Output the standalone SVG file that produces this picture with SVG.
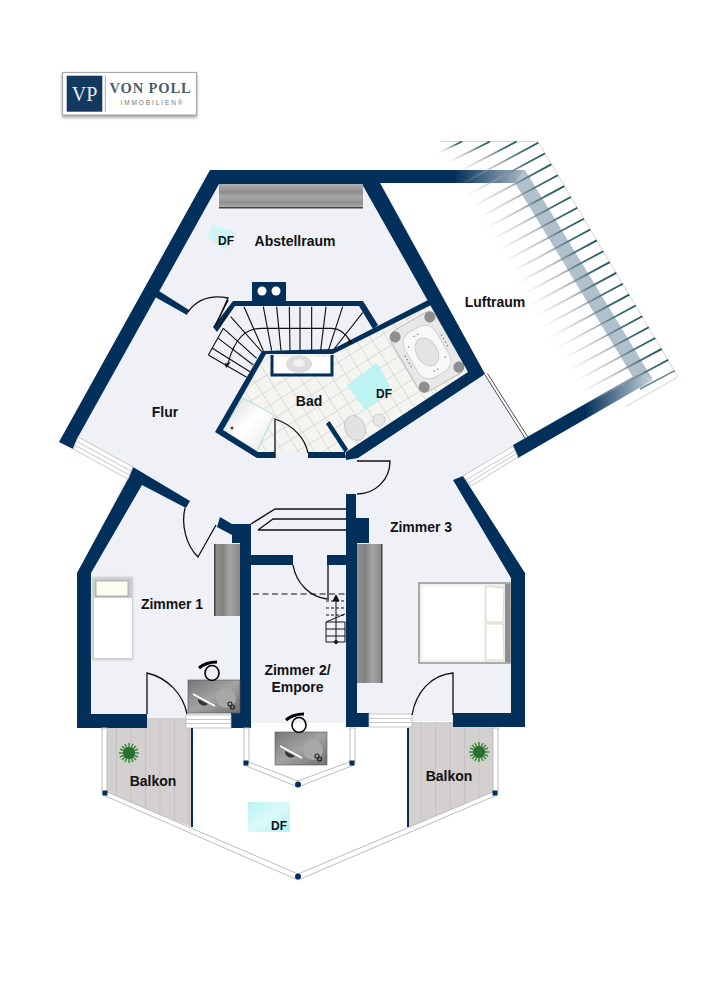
<svg xmlns="http://www.w3.org/2000/svg" width="707" height="1000" viewBox="0 0 707 1000">
<style>
.w{fill:#03305a}
.l{font-family:"Liberation Sans",Arial,sans-serif;font-weight:700;font-size:14px;fill:#111;text-anchor:middle}
.df{font-size:12px}
.d{fill:none;stroke:#111;stroke-width:1.3}
.s{fill:none;stroke:#111;stroke-width:3.4}
.win{fill:#fff;stroke:#b9b9b9;stroke-width:.8}
.rail{fill:#fff;stroke:#bdbdbd;stroke-width:1}
.post{fill:#03305a}
</style>
<defs>
<linearGradient id="stg" x1="0" y1="0" x2="1" y2="0"><stop offset="0" stop-color="#a4acaf" stop-opacity="0"/><stop offset=".45" stop-color="#959fa3" stop-opacity=".65"/><stop offset=".75" stop-color="#46707b"/><stop offset="1" stop-color="#21525f"/></linearGradient>
<linearGradient id="topf" gradientUnits="userSpaceOnUse" x1="455" y1="0" x2="525" y2="0"><stop offset="0" stop-color="#03305a"/><stop offset="1" stop-color="#a9b9c8"/></linearGradient>
<linearGradient id="lowf" gradientUnits="userSpaceOnUse" x1="585" y1="0" x2="652" y2="0"><stop offset="0" stop-color="#03305a"/><stop offset="1" stop-color="#c6d2dc"/></linearGradient>
<linearGradient id="wardH" x1="0" y1="0" x2="0" y2="1"><stop offset="0" stop-color="#b0b0b0"/><stop offset=".35" stop-color="#8e8e8e"/><stop offset=".55" stop-color="#a8a8a8"/><stop offset=".8" stop-color="#909090"/><stop offset="1" stop-color="#a8a8a8"/></linearGradient>
<linearGradient id="wardV" x1="0" y1="0" x2="1" y2="0"><stop offset="0" stop-color="#8f8f8f"/><stop offset=".35" stop-color="#838383"/><stop offset=".6" stop-color="#a4a4a4"/><stop offset="1" stop-color="#8a8a8a"/></linearGradient>
<linearGradient id="deskg" x1="0" y1="0" x2="1" y2="1"><stop offset="0" stop-color="#777"/><stop offset=".5" stop-color="#a2a2a2"/><stop offset="1" stop-color="#707070"/></linearGradient>
<linearGradient id="sky" x1="0" y1="0" x2="1" y2="1"><stop offset="0" stop-color="#b5f3f3"/><stop offset=".5" stop-color="#dcf9f9"/><stop offset="1" stop-color="#b5f2f3"/></linearGradient>
<linearGradient id="show" x1="0" y1="0" x2="1" y2="1"><stop offset="0" stop-color="#d8d8d8"/><stop offset=".5" stop-color="#fff"/><stop offset="1" stop-color="#e6e6e6"/></linearGradient>
<pattern id="tile" width="13.5" height="13.5" patternUnits="userSpaceOnUse" patternTransform="rotate(-32)"><rect width="13.5" height="13.5" fill="#f4f4f1"/><path d="M0 0H13.5M0 0V13.5" stroke="#c2c2bf" stroke-width=".9"/></pattern>
<pattern id="deck" width="14.5" height="10" patternUnits="userSpaceOnUse"><rect width="14.5" height="10" fill="#d4d0d0"/><path d="M0 0V10" stroke="#a5a5a5" stroke-width=".7"/></pattern>
<filter id="soft" x="-20%" y="-20%" width="140%" height="140%"><feGaussianBlur stdDeviation="1.2"/></filter>
<filter id="sb" x="-20%" y="-20%" width="140%" height="140%"><feGaussianBlur stdDeviation=".5"/></filter>
<filter id="sh" x="-5%" y="-10%" width="110%" height="130%"><feDropShadow dx="0" dy="2" stdDeviation="1.5" flood-color="#777" flood-opacity=".7"/></filter>
<line id="st" x1="-80" y1="43" x2="0" y2="0" stroke="url(#stg)" stroke-width="1.8"/>
<g id="desk">
<rect width="52" height="33" fill="url(#deskg)" stroke="#555" stroke-width=".6"/>
<circle cx="38" cy="18" r="10" fill="#a8a8a8"/>
<path d="M10 19a6 6 0 0 0 10 5z" fill="#333"/>
<path d="M5 14L27 26" stroke="#fff" stroke-width="1.6"/>
<circle cx="42" cy="24" r="2" fill="none" stroke="#222" stroke-width="1.2"/><circle cx="44.5" cy="27" r="2" fill="none" stroke="#222" stroke-width="1.2"/>
<ellipse cx="24" cy="-7" rx="7" ry="7.500" fill="none" stroke="#000" stroke-width="1.6"/>
<path d="M11 -12Q18 -18 29 -18" fill="none" stroke="#000" stroke-width="3"/>
</g>
<g id="plant" filter="url(#sb)"><g stroke="#3b8f3d" stroke-width="1.6"><path d="M-10 0H10M0 -10V10M-7 -7L7 7M-7 7L7 -7M-9 -4L9 4M-9 4L9 -4M-4 -9L4 9M4 -9L-4 9"/></g><circle r="6" fill="#2a6e32"/></g>
</defs>
<rect width="707" height="1000" fill="#fff"/>

<g id="logo">
<rect x="62.5" y="72.5" width="134" height="42.5" fill="#fff" stroke="#aaa" stroke-width="1.2" filter="url(#sh)"/>
<rect x="66.7" y="75.7" width="35.6" height="36" fill="#14395f"/>
<line x1="105.3" y1="75.5" x2="105.3" y2="112" stroke="#999" stroke-width=".8"/>
<text x="84.5" y="100.500" font-family="Liberation Serif,serif" font-size="20" fill="#e8edf2" text-anchor="middle">VP</text>
<text x="150.500" y="93" font-family="Liberation Serif,serif" font-size="14.500" font-weight="700" fill="#4a5c70" text-anchor="middle" letter-spacing=".9">VON POLL</text>
<text x="152.500" y="105" font-family="Liberation Sans,sans-serif" font-size="6.500" fill="#777" text-anchor="middle" letter-spacing="1.900">IMMOBILIEN®</text>
</g>

<g id="floor">
<polygon fill="#eff1f6" points="210,170 375,170 485,374 525,438 513,445 463,476 525,573 525,727 453,727 453,721 412,721 412,727 346,727 346,723 251,723 251,728 186,718 147,718 147,728 77,728 77,573 132,467 60,440"/>
<polygon id="balcony-left" fill="url(#deck)" points="107,718 192,718 192,827 107,795"/>
<polygon id="balcony-right" fill="url(#deck)" points="408,722 493,722 493,795 408,827"/>
</g>

<g id="luftraum">
<path d="M440 141.500H538L678 377L625 407" fill="none" stroke="#c9c9c9" stroke-width=".8"/>
<polygon points="525,170 652,378 636,382 515,183" fill="#a9b9c8" opacity=".9"/>
<polygon points="440,170 525,170 515,183 440,183" fill="url(#topf)"/>
<polygon points="513,445 636,375 652,378 653,380 518,458" fill="url(#lowf)"/>
<g>
<line x1="438" y1="153" x2="462" y2="141.500" stroke="url(#stg)" stroke-width="1.800"/>
<line x1="447" y1="163" x2="490" y2="141.500" stroke="url(#stg)" stroke-width="1.800"/>
<line x1="458" y1="172" x2="516.700" y2="141.500" stroke="url(#stg)" stroke-width="1.800"/>
<use href="#st" x="538.300" y="142.700"/><use href="#st" x="544.800" y="153.500"/><use href="#st" x="551.300" y="164.400"/><use href="#st" x="557.800" y="175.200"/><use href="#st" x="564.300" y="186.100"/><use href="#st" x="570.800" y="197"/><use href="#st" x="577.300" y="207.800"/><use href="#st" x="583.800" y="218.700"/><use href="#st" x="590.300" y="229.500"/><use href="#st" x="596.800" y="240.400"/><use href="#st" x="603.300" y="251.200"/><use href="#st" x="609.800" y="262.100"/><use href="#st" x="616.300" y="272.900"/><use href="#st" x="622.800" y="283.800"/><use href="#st" x="629.300" y="294.600"/><use href="#st" x="635.800" y="305.500"/><use href="#st" x="642.300" y="316.300"/><use href="#st" x="648.800" y="327.200"/><use href="#st" x="655.300" y="338"/><use href="#st" x="661.800" y="348.900"/><use href="#st" x="668.300" y="359.700"/>
</g>
<line x1="640" y1="389" x2="674.800" y2="370.600" stroke="#21525f" stroke-width="1.500" opacity=".7"/>
<path d="M485 375L525 438M487.500 373.500L527.500 436.500" fill="none" stroke="#222" stroke-width=".8"/>
</g>

<g id="bad">
<polygon fill="url(#tile)" points="263,357 223,430 258,452 345,452 468,372 430,303 333,352"/>
<polygon id="skylight-bad" fill="#bdf3f3" points="347,385 377,363 392,390 365,410"/>
<polygon id="shower" fill="url(#show)" stroke="#a7e3d8" stroke-width="1" points="223,430 243,398 274,415 257,451"/>
<circle cx="232" cy="428" r="1.500" fill="#444"/>
<rect x="272" y="357" width="58" height="16" fill="#fff"/>
<ellipse id="sink" cx="299" cy="364" rx="13" ry="9" fill="#dcdcdc"/><ellipse cx="299" cy="363" rx="6" ry="4" fill="#f1f1f1"/>
<g id="jacuzzi" transform="translate(427 352) rotate(-30)">
<rect x="-26" y="-35" width="52" height="70" rx="9" fill="#e8e8e8" stroke="#bdbdbd"/>
<rect x="-18" y="-26" width="36" height="52" rx="13" fill="#f8f8f8" stroke="#d2d2d2"/>
<ellipse rx="10.500" ry="15" fill="#e4e4e4" stroke="#d0d0d0"/>
<circle cx="-20" cy="-29" r="5.500" fill="#8f8f8f"/><circle cx="20" cy="-29" r="5.500" fill="#8f8f8f"/><circle cx="20" cy="29" r="5.500" fill="#8f8f8f"/><circle cx="-20" cy="29" r="5.500" fill="#8f8f8f"/>
<path d="M-4 -20H4M-4 20H4M-21 -8V8M21 -8V8M-14 -14L-12 -12M14 14L12 12" stroke="#666" stroke-width="1" stroke-dasharray="1.500 2.500" fill="none"/>
</g>
<ellipse id="wc" cx="355" cy="428" rx="10" ry="13" transform="rotate(-25 355 428)" fill="#e2e2e2" stroke="#c2c2c2" stroke-width=".8"/>
<circle id="bidet" cx="379" cy="420" r="6" fill="#e6e6e6" stroke="#c2c2c2" stroke-width=".8"/>
</g>

<g id="walls">
<polygon class="w" points="59,442 210,170 380,170 455,170 455,183 380,183 485,374 358,458 346,460 346,452 468,372 362,184 219,184 78,437 73,449"/>
<polygon class="w" points="262,351 333,349 432,298 435,303 333,354 266,354 223,430 258,452 275,452 275,458 257,458 215,432"/>
<polygon class="w" points="308,452 345,452 346,458 308,458"/>
<path class="w" d="M326 424L329.500 421L348 449L345 453z"/>
<path d="M272 355V375H332V355" fill="none" stroke="#03305a" stroke-width="3"/>
<polygon class="w" points="159,291 189,310 187,315 155,297"/>
<polygon class="w" points="252,282 286,282 286,301 363,301 378,325 373,329 359,306 235,306 217,332 213,327 233,301 252,301"/>
<circle cx="262" cy="291" r="4.500" fill="#fff"/><circle cx="276" cy="291" r="4.500" fill="#fff"/>
<polygon class="w" points="133,467 190,501 186,508 142,485 91,573 91,714 147,714 147,728 77,728 77,573 128,479"/>
<polygon class="w" points="220,517 232,524 251,524 251,555 293,555 293,565 251,565 251,728 231,728 231,713 240,713 240,543 232,543 232,535 217,527"/>
<rect class="w" x="327" y="555" width="19" height="10"/>
<polygon class="w" points="346,494 356,494 356,518 369,518 369,543 357,543 357,713 369,713 369,727 346,727"/>
<polygon class="w" points="453,480 463,476 525,573 525,727 453,727 453,713 511,713 511,578"/>
</g>

<g id="windows">
<polygon class="win" points="78,437 133,467 128,479 73,449"/>
<path d="M76 441L131 471M74.500 445L129.500 475" stroke="#b9b9b9" stroke-width=".8"/>
<polygon class="win" points="463,476 513,446 518,457 471,486"/>
<path d="M466 480L515 450.500M468.500 483L516.500 453.500" stroke="#b9b9b9" stroke-width=".8"/>
<rect class="win" x="186" y="715" width="45" height="13"/><path d="M186 719.500H231M186 723.500H231" stroke="#b9b9b9" stroke-width=".8"/>
<rect class="win" x="369" y="714" width="43" height="13"/><path d="M369 718.500H412M369 722.500H412" stroke="#b9b9b9" stroke-width=".8"/>
</g>

<g id="balustrade">
<path d="M192 728V827M408 728V827" stroke="#03305a" stroke-width="2"/>
<rect class="rail" x="102" y="728" width="5" height="65"/><rect class="rail" x="493" y="728" width="5" height="65"/>
<rect class="rail" x="244" y="728" width="5" height="35"/><rect class="rail" x="350" y="728" width="5" height="35"/>
<polygon class="rail" points="105,791 298,874 495,791 497,795 298,880 103,795"/>
<polygon class="rail" points="246,761 298,781 352,761 354,765 298,787 244,765"/>
<rect class="post" x="102.500" y="790.500" width="5" height="5"/><rect class="post" x="492.500" y="790.500" width="5" height="5"/>
<rect class="post" x="243.500" y="760.500" width="5" height="5"/><rect class="post" x="349.500" y="760.500" width="5" height="5"/>
<circle class="post" cx="298" cy="784.500" r="3"/><circle class="post" cx="298" cy="876.500" r="3"/>
</g>

<g id="stairs" transform="translate(200 280) scale(.3333)">
<path class="s" d="M132 80L190 212M190 80L215 212M230 80L243 212M268 80L270 212M300 80L300 212M335 80L335 212M378 80L362 212M428 80L385 212M488 98L400 210M92 110L185 215M70 145L170 235M55 175L160 255M37 205L150 275M25 225L140 292M25 225L70 145"/>
<path class="s" d="M84 250C105 170 140 145 185 145H395C420 145 440 165 452 185"/>
<path d="M72 252L92 246L80 264z" fill="#111"/>
<circle cx="450" cy="185" r="6" fill="#111"/>
<path class="s" d="M42 142L85 60"/>
<path class="s" d="M58 142L85 90"/>
</g>

<g id="doors">
<path class="d" d="M188 312C198 298 212 295 228 298L216 325"/>
<path class="d" d="M275 458V419C293 425 305 438 308 453"/>
<path class="d" d="M357 461H390C390 480 375 494 357 494"/>
<path class="d" d="M216 525L198 557C186 545 181 525 185 508"/>
<path class="d" d="M293 565C296 583 310 597 327 599M328 565V600"/>
<path class="d" d="M147 714V673C168 678 183 694 187 714"/>
<path class="d" d="M453 715V673C431 675 416 692 412 715"/>
<path class="d" d="M251 524L275 509H346M258 530L273 519H346M258 530H346"/>
</g>

<g id="stairs-small" stroke="#111" stroke-width="1" fill="none">
<path d="M253 594H346" stroke-dasharray="6 3.500" stroke-width="1.200"/>
<path d="M326 601H345" stroke-dasharray="3 2"/><path d="M326 608H345" stroke-dasharray="3 2"/><path d="M326 615H345" stroke-dasharray="3 2"/>
<path d="M326 622H345M326 629H345M326 636H345M326 642H345M326 622V642M345 622V642M326 622L345 614"/>
<path d="M336 642V598"/>
<path d="M336 595L333 601H339z" fill="#111"/><circle cx="336" cy="642" r="1.500" fill="#111"/>
</g>

<g id="furniture">
<g id="wardrobe-top"><rect x="219" y="184" width="144" height="23" fill="url(#wardH)"/><rect x="219" y="207" width="144" height="1.500" fill="#444"/></g>
<g id="wardrobe-1"><rect x="214" y="544" width="26" height="72" fill="url(#wardV)"/><rect x="214" y="544" width="1.500" height="72" fill="#444"/></g>
<g id="wardrobe-3"><rect x="357" y="544" width="25" height="139" fill="url(#wardV)"/><rect x="381" y="544" width="1.500" height="139" fill="#444"/></g>
<g id="bed-1"><rect x="92" y="577" width="41" height="83" fill="#c9c9c9" filter="url(#soft)"/><rect x="94" y="598" width="38" height="60" fill="#fff" filter="url(#sb)"/><rect x="96" y="581" width="32" height="15" fill="#fdfdf0" stroke="#a0a0a0" stroke-width=".8"/></g>
<g id="bed-3"><rect x="419" y="583" width="91" height="80" fill="#eeeeea" stroke="#666" stroke-width="1"/><rect x="422" y="586" width="62" height="74" fill="#fff" filter="url(#soft)"/><rect x="505" y="584" width="5" height="78" fill="#8e8e8e"/><polygon points="486,586 504,588 503,622 486,622" fill="#fff" stroke="#d2d2bf" stroke-width=".8"/><polygon points="486,624 503,624 504,660 486,660" fill="#fff" stroke="#d2d2bf" stroke-width=".8"/></g>
<use id="desk-1" href="#desk" x="188" y="680"/>
<use id="desk-2" href="#desk" x="275" y="732"/>
<use id="plant-1" href="#plant" x="129" y="753"/>
<use id="plant-2" href="#plant" x="479" y="752"/>
<polygon id="skylight-top" fill="#c6f3f4" opacity=".75" points="207,237 213,225 237,233 225,250"/>
<rect id="skylight-bottom" x="248" y="802" width="42" height="30" fill="url(#sky)"/>
</g>

<g id="labels">
<text class="l" x="295" y="246">Abstellraum</text>
<text class="l df" x="226" y="245">DF</text>
<text class="l" x="165" y="417">Flur</text>
<text class="l" x="309" y="406">Bad</text>
<text class="l df" x="384" y="398">DF</text>
<text class="l" x="495" y="307">Luftraum</text>
<text class="l" x="172" y="609">Zimmer 1</text>
<text class="l" x="297.500" y="675">Zimmer 2/</text>
<text class="l" x="297.500" y="692">Empore</text>
<text class="l" x="421" y="532">Zimmer 3</text>
<text class="l" x="153" y="786">Balkon</text>
<text class="l" x="449" y="781">Balkon</text>
<text class="l df" x="279" y="830">DF</text>
</g>
</svg>
